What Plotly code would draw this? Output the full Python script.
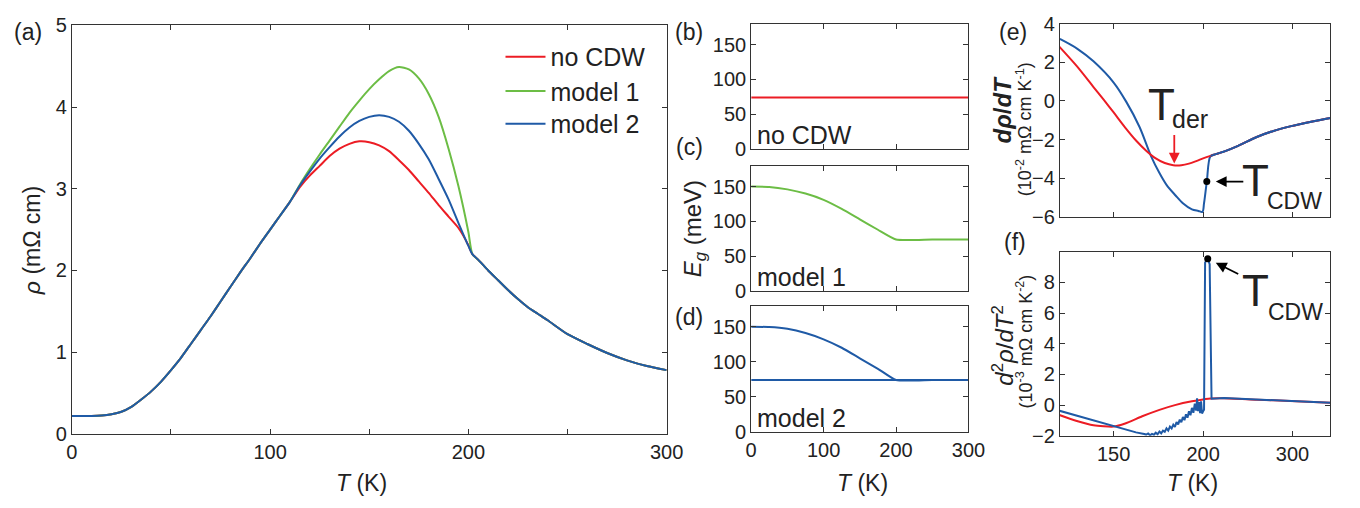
import plotly.graph_objects as go

# ---------------- data ----------------
# panel (a): resistivity rho (mOhm cm) vs T (K)
T_low = [0, 5, 10, 15, 20, 25, 30, 35, 40, 45, 50, 55, 60, 65, 70, 75, 80, 85, 90, 95, 100, 105, 110]
rho_low = [0.22, 0.22, 0.22, 0.225, 0.24, 0.27, 0.33, 0.42, 0.52, 0.64, 0.78, 0.93, 1.10, 1.27, 1.44,
           1.62, 1.80, 1.98, 2.15, 2.33, 2.50, 2.67, 2.84]
T_mid = [115, 120, 125, 130, 135, 140, 145, 150, 155, 160, 165, 170, 175, 180, 185, 190, 195, 200]
rho_mid_nocdw = [3.02, 3.16, 3.28, 3.40, 3.49, 3.55, 3.58, 3.57, 3.53, 3.46, 3.35, 3.23, 3.09, 2.95,
                 2.80, 2.66, 2.52, 2.31]
rho_mid_model1 = [3.05, 3.24, 3.42, 3.59, 3.76, 3.93, 4.08, 4.22, 4.34, 4.44, 4.49, 4.46, 4.35, 4.16,
                  3.88, 3.49, 3.03, 2.47]
rho_mid_model2 = [3.04, 3.21, 3.37, 3.51, 3.64, 3.75, 3.83, 3.88, 3.90, 3.88, 3.82, 3.71, 3.55, 3.36,
                  3.12, 2.87, 2.58, 2.30]
T_high = [202, 205, 210, 215, 220, 225, 230, 235, 240, 250, 260, 270, 280, 290, 300]
rho_high = [2.20, 2.13, 2.00, 1.88, 1.76, 1.65, 1.55, 1.47, 1.39, 1.22, 1.10, 0.99, 0.90, 0.83, 0.78]

# panels (b)-(d): gap Eg (meV) vs T (K)
T_gap = [0, 25, 50, 75, 100, 125, 150, 175, 200, 250, 300]
Eg_nocdw = [74, 74, 74, 74, 74, 74, 74, 74, 74, 74, 74]
Eg_model1 = [150, 149.5, 146, 140, 131, 118, 103, 88, 74, 74, 74]
Eg_model2 = [150, 149.5, 147, 141, 132, 120, 105, 90, 74, 74, 74]
Eg_base = [74, 74, 74, 74, 74, 74, 74, 74, 74, 74, 74]

# panel (e): d rho/dT (1e-2 mOhm cm/K)
T_e_red = [130, 136, 142, 146, 150, 155, 160, 165, 170, 175, 180, 185, 190, 195, 200, 205, 210, 218,
           230, 250, 270, 296, 340, 380]
d1_red = [2.85, 1.80, 0.72, 0.05, -0.60, -1.38, -2.05, -2.58, -2.98, -3.22, -3.33, -3.33, -3.25,
          -3.12, -2.98, -2.86, -2.76, -2.60, -2.33, -1.87, -1.57, -1.32, -1.05, -0.88]
T_e_blue = [130.4, 136.2, 142, 150, 155.5, 161.7, 167.5, 171.8, 176, 181.4, 186, 192, 196.6, 199.5,
            200.7, 202.8, 205.7, 210, 218, 230, 250, 270, 296, 340, 380]
d1_blue = [3.21, 2.70, 2.05, 0.95, -0.05, -1.35, -2.86, -3.70, -4.35, -4.90, -5.30, -5.62, -5.70, -5.75,
           -5.30, -4.18, -2.86, -2.76, -2.60, -2.33, -1.87, -1.57, -1.32, -1.05, -0.88]
T_cdw_e, d1_cdw = 202.8, -4.18

# panel (f): d2 rho/dT2 (1e-3 mOhm cm/K^2)
T_f_red = [130, 136, 142, 150, 155, 163, 172, 181, 192, 204, 217, 250, 296, 340, 380]
d2_red = [-0.63, -1.04, -1.32, -1.40, -1.20, -0.73, -0.31, 0.0, 0.25, 0.42, 0.44, 0.35, 0.27, 0.20, 0.15]
T_f_blue = [130, 136, 142, 150, 155, 160, 164,
            165, 166, 167, 168, 169, 170, 171, 172, 173, 174, 175, 176, 177, 178, 179, 180, 181, 182,
            183, 184, 185, 186, 187, 188, 189, 190, 191, 192, 193, 194, 195, 195.6, 196.3, 197, 197.8,
            198.5, 199.2, 200, 200.7,
            201.5, 203.5, 205, 206.5, 217, 250, 296, 340, 380]
d2_blue = [-0.35, -0.69, -0.98, -1.36, -1.58, -1.78, -1.88,
           -1.92, -1.85, -1.97, -1.88, -1.93, -1.80, -1.90, -1.72, -1.84, -1.66, -1.74, -1.52, -1.66,
           -1.40, -1.52, -1.28, -1.42, -1.10, -1.26, -0.95, -1.12, -0.78, -0.98, -0.60, -0.82, -0.40,
           -0.66, -0.18, -0.50, 0.10, -0.35, 0.45, -0.40, 0.20, -0.52, 0.25, -0.55, -0.40, -0.30,
           9.3, 9.55, 9.2, 0.42, 0.46, 0.36, 0.27, 0.20, 0.15]
T_cdw_f, d2_cdw = 203.5, 9.55

T_ticks_ef = [150, 200, 300]

# ---------------- style ----------------
RED, GREEN, BLUE = "#ec1c24", "#6cbd45", "#1f5aa6"
AX = "#333333"
FONT = "Arial, Liberation Sans, Helvetica, sans-serif"
W, H = 1360, 508


def px(x):
    return x / W


def py(y):
    return 1 - y / H


def inv(ts):
    return [1000.0 / t for t in ts]


fig = go.Figure()

# (a)
for name, mid, col, leg in [("no CDW", rho_mid_nocdw, RED, "legend"),
                            ("model 1", rho_mid_model1, GREEN, "legend2"),
                            ("model 2", rho_mid_model2, BLUE, "legend3")]:
    fig.add_trace(go.Scatter(x=T_low + T_mid + T_high, y=rho_low + mid + rho_high, mode="lines",
                             line=dict(color=col, width=2, shape="spline", smoothing=0.6),
                             name=name, legend=leg, xaxis="x", yaxis="y"))

# (b)-(d)
fig.add_trace(go.Scatter(x=T_gap, y=Eg_nocdw, mode="lines", line=dict(color=RED, width=2),
                         showlegend=False, xaxis="x2", yaxis="y2"))
fig.add_trace(go.Scatter(x=T_gap, y=Eg_model1, mode="lines",
                         line=dict(color=GREEN, width=2, shape="spline", smoothing=0.5),
                         showlegend=False, xaxis="x3", yaxis="y3"))
fig.add_trace(go.Scatter(x=T_gap, y=Eg_base, mode="lines", line=dict(color=BLUE, width=2),
                         showlegend=False, xaxis="x4", yaxis="y4"))
fig.add_trace(go.Scatter(x=T_gap, y=Eg_model2, mode="lines",
                         line=dict(color=BLUE, width=2, shape="spline", smoothing=0.5),
                         showlegend=False, xaxis="x4", yaxis="y4"))

# (e)
fig.add_trace(go.Scatter(x=inv(T_e_blue), y=d1_blue, mode="lines",
                         line=dict(color=BLUE, width=2, shape="spline", smoothing=0.9),
                         showlegend=False, xaxis="x5", yaxis="y5"))
fig.add_trace(go.Scatter(x=inv(T_e_red), y=d1_red, mode="lines",
                         line=dict(color=RED, width=2, shape="spline", smoothing=0.8),
                         showlegend=False, xaxis="x5", yaxis="y5"))
fig.add_trace(go.Scatter(x=inv(T_e_blue[-9:]), y=d1_blue[-9:], mode="lines",
                         line=dict(color=BLUE, width=2, shape="spline", smoothing=0.3),
                         showlegend=False, xaxis="x5", yaxis="y5"))
fig.add_trace(go.Scatter(x=inv([T_cdw_e]), y=[d1_cdw], mode="markers",
                         marker=dict(color="black", size=7), showlegend=False, xaxis="x5", yaxis="y5"))

# (f)
fig.add_trace(go.Scatter(x=inv(T_f_red), y=d2_red, mode="lines",
                         line=dict(color=RED, width=2, shape="spline", smoothing=0.6),
                         showlegend=False, xaxis="x6", yaxis="y6"))
fig.add_trace(go.Scatter(x=inv(T_f_blue), y=d2_blue, mode="lines", line=dict(color=BLUE, width=2),
                         showlegend=False, xaxis="x6", yaxis="y6"))
fig.add_trace(go.Scatter(x=inv([T_cdw_f]), y=[d2_cdw], mode="markers",
                         marker=dict(color="black", size=7), showlegend=False, xaxis="x6", yaxis="y6"))

base = dict(showline=True, linecolor=AX, linewidth=1, mirror="ticks", ticks="inside", ticklen=5,
            tickcolor=AX, showgrid=False, zeroline=False, tickfont=dict(family=FONT, size=20, color="#222"))

lay = dict(
    width=W, height=H, margin=dict(l=0, r=0, t=0, b=0), paper_bgcolor="white", plot_bgcolor="white",
    font=dict(family=FONT, color="#222"),
    xaxis=dict(base, domain=[px(67), px(672)], range=[0, 300], anchor="y",
               tickvals=[0, 50, 100, 150, 200, 250, 300], ticktext=["0", "", "100", "", "200", "", "300"]),
    yaxis=dict(base, domain=[py(442), py(15)], range=[0, 5], anchor="x", tickvals=[0, 1, 2, 3, 4, 5]),
)
gap_x = dict(base, range=[0, 300], tickvals=[0, 100, 200, 300], domain=[px(758), px(979)])
gap_y = dict(base, range=[0, 180], tickvals=[0, 50, 100, 150])
lay["xaxis2"] = dict(gap_x, anchor="y2", showticklabels=False)
lay["yaxis2"] = dict(gap_y, anchor="x2", domain=[py(144), py(13.5)])
lay["xaxis3"] = dict(gap_x, anchor="y3", showticklabels=False)
lay["yaxis3"] = dict(gap_y, anchor="x3", domain=[py(292.7), py(161.7)])
lay["xaxis4"] = dict(gap_x, anchor="y4")
lay["yaxis4"] = dict(gap_y, anchor="x4", domain=[py(440), py(308)])
ef_x = dict(base, range=[1000 / 130.4, 1000 / 380], tickvals=inv(T_ticks_ef),
            ticktext=[str(t) for t in T_ticks_ef], domain=[px(1072), px(1347)])
lay["xaxis5"] = dict(ef_x, anchor="y5", showticklabels=False)
lay["yaxis5"] = dict(base, anchor="x5", range=[-6, 4], tickvals=[-6, -4, -2, 0, 2, 4],
                     domain=[py(215), py(13.3)])
lay["xaxis6"] = dict(ef_x, anchor="y6")
lay["yaxis6"] = dict(base, anchor="x6", range=[-2, 10], tickvals=[-2, 0, 2, 4, 6, 8],
                     domain=[py(444), py(251.7)])

legfont = dict(family=FONT, size=25, color="#222")
for key, yy in [("legend", 48), ("legend2", 84), ("legend3", 118)]:
    lay[key] = dict(x=px(503), y=py(yy), xanchor="left", yanchor="middle", font=legfont,
                    bgcolor="rgba(0,0,0,0)", itemwidth=40, borderwidth=0)
fig.update_layout(**lay)

anns = []


def text(x, y, s, size, angle=0, xanchor="center"):
    anns.append(dict(x=px(x), y=py(y), xref="paper", yref="paper", text=s, showarrow=False,
                     font=dict(family=FONT, size=size, color="#222"), textangle=angle,
                     xanchor=xanchor, yanchor="middle"))


# panel labels
text(22, 22, "(a)", 23)
text(695, 22, "(b)", 23)
text(695, 142, "(c)", 23)
text(695, 320, "(d)", 23)
text(1024, 22, "(e)", 23)
text(1026, 241, "(f)", 23)

# axis titles
text(362, 493, "<i>T</i> (K)", 23)
text(871, 493, "<i>T</i> (K)", 23)
text(1207, 493, "<i>T</i> (K)", 23)
text(26, 240, "<i>ρ</i> (mΩ cm)", 23, angle=-90)
text(700, 228, "<i>E<sub>g</sub></i> (meV)", 24, angle=-90)
text(1014, 103, "<b><i>d</i><i>ρ</i>/<i>dT</i></b>", 24, angle=-90)
text(1036, 123, "(10<sup>-2</sup> mΩ cm K<sup>-1</sup>)", 18, angle=-90)
text(1014, 350, "<i>d</i><sup>2</sup><i>ρ</i>/<i>dT</i><sup>2</sup>", 24, angle=-90)
text(1036, 345, "(10<sup>-3</sup> mΩ cm K<sup>-2</sup>)", 18, angle=-90)

# panel inner labels
text(762, 130, "no CDW", 25, xanchor="left")
text(762, 278, "model 1", 25, xanchor="left")
text(762, 425, "model 2", 25, xanchor="left")

# T_der, T_CDW
text(1175, 98, "T", 44)
text(1204, 113, "der", 25)
text(1271, 177, "T", 44)
text(1311, 199, "CDW", 23)
text(1271, 292, "T", 44)
text(1312, 315, "CDW", 23)

# arrows
anns.append(dict(x=1000 / 180.6, y=-3.25, xref="x5", yref="y5", ax=0, ay=-30, axref="pixel",
                 ayref="pixel", showarrow=True, arrowhead=2, arrowsize=1.2, arrowwidth=1.8,
                 arrowcolor=RED, text=""))
anns.append(dict(x=1000 / T_cdw_e, y=d1_cdw, xref="x5", yref="y5", ax=38, ay=0, showarrow=True,
                 arrowhead=2, arrowsize=1.2, arrowwidth=1.8, arrowcolor="black", standoff=9, text=""))
anns.append(dict(x=1000 / T_cdw_f, y=d2_cdw, xref="x6", yref="y6", ax=32, ay=16, showarrow=True,
                 arrowhead=2, arrowsize=1.2, arrowwidth=1.8, arrowcolor="black", standoff=9, text=""))
fig.update_layout(annotations=anns)

fig.write_html("out.html")
